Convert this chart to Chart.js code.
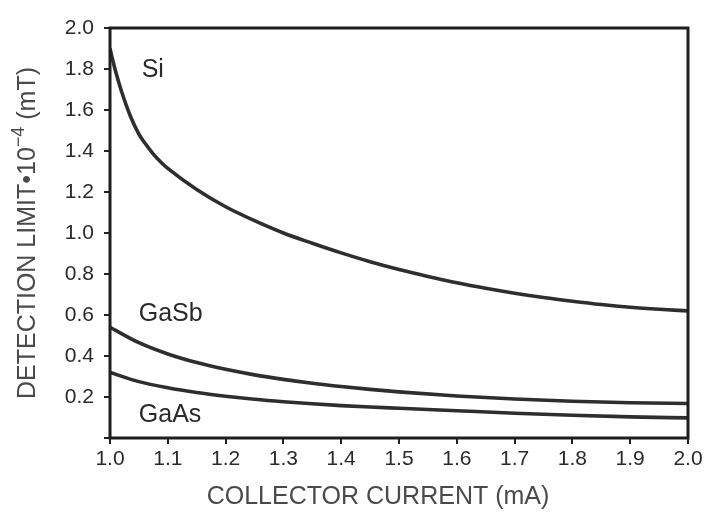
<!DOCTYPE html>
<html>
<head>
<meta charset="utf-8">
<style>
  html, body { margin: 0; padding: 0; background: #fff; }
  #wrap { width: 706px; height: 516px; }
</style>
<script src="https://cdn.jsdelivr.net/npm/chart.js@4/dist/chart.umd.min.js"></script>
</head>
<body>
<div id="wrap"><canvas id="c" width="706" height="516"></canvas></div>
<script>
// Collector current (mA)
const currentSi   = [1.0, 1.005, 1.01, 1.02, 1.035, 1.05, 1.06, 1.075, 1.09, 1.1, 1.15, 1.2, 1.25, 1.3, 1.35, 1.4, 1.45, 1.5, 1.55, 1.6, 1.65, 1.7, 1.75, 1.8, 1.85, 1.9, 1.95, 2.0];
// Detection limit (x 10^-4 mT)
const limitSi     = [1.90, 1.84, 1.785, 1.69, 1.572, 1.482, 1.44, 1.385, 1.34, 1.315, 1.212, 1.128, 1.060, 1.000, 0.950, 0.903, 0.860, 0.822, 0.788, 0.757, 0.730, 0.706, 0.685, 0.667, 0.651, 0.638, 0.628, 0.620];

const currentGa   = [1.0, 1.05, 1.1, 1.15, 1.2, 1.25, 1.3, 1.35, 1.4, 1.45, 1.5, 1.6, 1.7, 1.8, 1.9, 2.0];
const limitGaSb   = [0.54, 0.465, 0.41, 0.368, 0.335, 0.308, 0.286, 0.267, 0.251, 0.237, 0.225, 0.205, 0.190, 0.179, 0.172, 0.168];
const limitGaAs   = [0.32, 0.275, 0.245, 0.222, 0.204, 0.189, 0.177, 0.167, 0.158, 0.151, 0.145, 0.133, 0.121, 0.111, 0.103, 0.098];

// Curve names: [text, current, limit]
const curveLabels = [
  ['Si',   1.074, 1.795],
  ['GaSb', 1.105, 0.605],
  ['GaAs', 1.104, 0.11]
];

const xTickMin = 1.0, xTickMax = 2.0, xStep = 0.1;
const yTickMin = 0.0, yTickMax = 2.0, yStep = 0.2;

const xTitle = 'COLLECTOR CURRENT (mA)';
const yTitle = ['DETECTION LIMIT\u202210', '\u22124', ' (mT)'];

const toPoints = (xs, ys) => xs.map((x, i) => ({ x: x, y: ys[i] }));

const LINE = '#2e2e2e';
const TEXT = '#2a2a2a';
const TITLE = '#4a4a4a';
const FONT = '"Liberation Sans", Arial, Helvetica, sans-serif';

const series = (label, xs, ys) => ({
  label: label,
  data: toPoints(xs, ys),
  borderColor: LINE,
  borderWidth: 3.6,
  pointRadius: 0,
  fill: false,
  cubicInterpolationMode: 'monotone'
});

// Plot frame, curve names and axis titles
const decorPlugin = {
  id: 'decor',
  afterDraw(chart) {
    const { ctx, chartArea: a, scales } = chart;
    ctx.save();
    ctx.strokeStyle = '#1e1e1e';
    ctx.lineWidth = 3;
    ctx.strokeRect(a.left, a.top, a.right - a.left, a.bottom - a.top);

    ctx.fillStyle = '#2a2a2a';
    ctx.font = '25px ' + FONT;
    ctx.textAlign = 'center';
    ctx.textBaseline = 'middle';
    curveLabels.forEach(([t, x, y]) => {
      ctx.fillText(t, scales.x.getPixelForValue(x), scales.y.getPixelForValue(y));
    });

    // x title
    ctx.fillStyle = TITLE;
    ctx.font = '25px ' + FONT;
    ctx.fillText(xTitle, 378, 497);

    // y title with superscript exponent
    const big = '25px ' + FONT, small = '18px ' + FONT;
    ctx.font = big;
    const w0 = ctx.measureText(yTitle[0]).width;
    const w2 = ctx.measureText(yTitle[2]).width;
    ctx.font = small;
    const w1 = ctx.measureText(yTitle[1]).width;
    const total = w0 + w1 + w2;
    ctx.translate(28, 233);
    ctx.rotate(-Math.PI / 2);
    ctx.textAlign = 'left';
    let x = -total / 2;
    ctx.font = big;
    ctx.fillText(yTitle[0], x, 0);
    x += w0;
    ctx.font = small;
    ctx.fillText(yTitle[1], x, -9);
    x += w1;
    ctx.font = big;
    ctx.fillText(yTitle[2], x, 0);
    ctx.restore();
  }
};

new Chart(document.getElementById('c'), {
  type: 'line',
  data: {
    datasets: [
      series('Si', currentSi, limitSi),
      series('GaSb', currentGa, limitGaSb),
      series('GaAs', currentGa, limitGaAs)
    ]
  },
  options: {
    responsive: false,
    animation: false,
    layout: { padding: { top: 28, right: 18, left: 0, bottom: 0 } },
    plugins: { legend: { display: false }, tooltip: { enabled: false } },
    scales: {
      x: {
        type: 'linear',
        min: xTickMin,
        max: xTickMax,
        afterFit(s) { s.height = 78; },
        grid: { display: true, drawOnChartArea: false, drawTicks: true, tickLength: 6, color: '#222', lineWidth: 2 },
        border: { display: false },
        ticks: {
          stepSize: xStep,
          color: TEXT,
          font: { family: FONT, size: 21 },
          padding: 3,
          maxRotation: 0,
          callback: v => Number(v).toFixed(1)
        },
        title: { display: false }
      },
      y: {
        type: 'linear',
        min: yTickMin,
        max: yTickMax,
        afterFit(s) { s.width = 110; },
        grid: { display: true, drawOnChartArea: false, drawTicks: true, tickLength: 6, color: '#222', lineWidth: 2 },
        border: { display: false },
        ticks: {
          stepSize: yStep,
          color: TEXT,
          font: { family: FONT, size: 21 },
          padding: 10,
          callback: v => (Math.abs(v) < 1e-9 ? '' : Number(v).toFixed(1))
        },
        title: { display: false }
      }
    }
  },
  plugins: [decorPlugin]
});
</script>
</body>
</html>
